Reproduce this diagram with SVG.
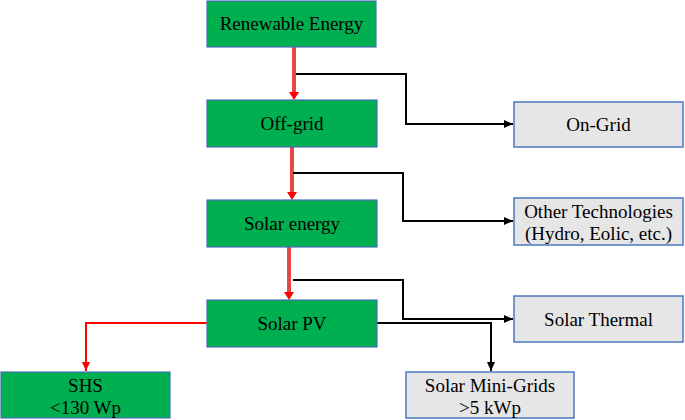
<svg xmlns="http://www.w3.org/2000/svg" width="685" height="420" viewBox="0 0 685 420" font-family="Liberation Serif, Times New Roman, serif" font-size="19">
<style>
.g{fill:#00B050;stroke:#4A6FB5;stroke-width:1.2}
.w{fill:#E7E6E6;stroke:#4A78BF;stroke-width:1.5}
text{fill:#000;text-anchor:middle}
.k{fill:none;stroke:#000;stroke-width:2}
.r{fill:none;stroke:#FF0000;stroke-width:2}
.rr{fill:none;stroke:#FF0000;stroke-width:3.5}
.ri{fill:none;stroke:#A0A0A0;stroke-width:1}
</style>
<defs>
<marker id="ak" markerWidth="10" markerHeight="10" refX="9" refY="5" orient="auto" markerUnits="userSpaceOnUse"><path d="M0,1 L9,5 L0,9 Z" fill="#000"/></marker>
<marker id="ar" markerWidth="10" markerHeight="10" refX="9" refY="5" orient="auto" markerUnits="userSpaceOnUse"><path d="M0,1 L9,5 L0,9 Z" fill="#FF0000"/></marker>
</defs>
<g id="connectors">
<path class="rr" d="M294,47 V94"/><path class="ri" d="M294,47 V94"/><path d="M289,92 L294,100 L299,92 Z" fill="#FF0000"/>
<path class="rr" d="M292,147 V194"/><path class="ri" d="M292,147 V194"/><path d="M287,192 L292,200 L297,192 Z" fill="#FF0000"/>
<path class="rr" d="M289,247 V294"/><path class="ri" d="M289,247 V294"/><path d="M284,292 L289,300 L294,292 Z" fill="#FF0000"/>
<path class="k" d="M296,74 H406 V124 H513" marker-end="url(#ak)"/>
<path class="k" d="M293,173 H403 V221 H513" marker-end="url(#ak)"/>
<path class="k" d="M293,280 H403 V319 H513" marker-end="url(#ak)"/>
<path class="k" d="M377,323 H491 V371" marker-end="url(#ak)"/>
<path class="r" d="M207,323 H86 V371" marker-end="url(#ar)"/>
</g>
<g id="renewable"><rect class="g" x="207" y="1" width="169" height="46"/><text x="291.5" y="30">Renewable Energy</text></g>
<g id="offgrid"><rect class="g" x="207" y="100" width="170" height="47"/><text x="292" y="130">Off-grid</text></g>
<g id="solarenergy"><rect class="g" x="207" y="200" width="170" height="47"/><text x="292" y="230">Solar energy</text></g>
<g id="solarpv"><rect class="g" x="207" y="300" width="170" height="47"/><text x="292" y="330">Solar PV</text></g>
<g id="ongrid"><rect class="w" x="514" y="102" width="169" height="45"/><text x="598.5" y="131">On-Grid</text></g>
<g id="othertech"><rect class="w" x="514" y="198" width="169" height="47"/><text x="598.5" y="218">Other Technologies</text><text x="598.5" y="240">(Hydro, Eolic, etc.)</text></g>
<g id="solarthermal"><rect class="w" x="514" y="296" width="169" height="46"/><text x="598.5" y="326">Solar Thermal</text></g>
<g id="minigrids"><rect class="w" x="406" y="372" width="168" height="46"/><text x="490" y="392">Solar Mini-Grids</text><text x="490" y="414">&gt;5 kWp</text></g>
<g id="shs"><rect class="g" x="1" y="372" width="169" height="46"/><text x="85.5" y="392">SHS</text><text x="85.5" y="414">&lt;130 Wp</text></g>
</svg>
